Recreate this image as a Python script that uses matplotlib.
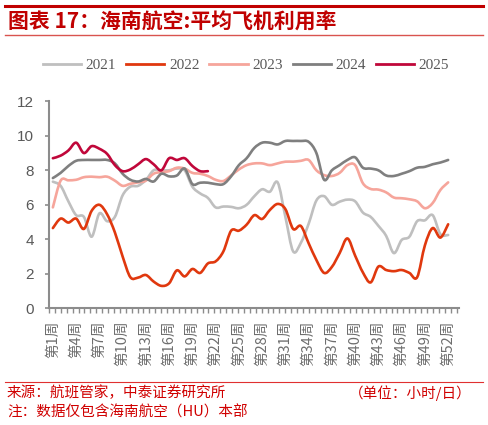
import numpy as np
import matplotlib; matplotlib.use("Agg")
import matplotlib.pyplot as plt
from matplotlib.path import Path
from matplotlib.patches import PathPatch
from matplotlib.lines import Line2D
from matplotlib.transforms import ScaledTranslation

plt.rcParams['font.family'] = ['Noto Sans CJK SC', 'DejaVu Sans']

weeks = np.arange(1, 53)
labels = [f"第{w}周" for w in range(1, 53, 3)]

y2021 = [7.34, 7.1, 6.2, 5.4, 5.3, 4.15, 5.5, 5.05, 5.3, 6.55, 7.05, 7.1, 7.44, 8.0, 8.0, 8.0, 8.1, 8.0,
         7.05, 6.66, 6.4, 5.85, 5.9, 5.88, 5.8, 6.0, 6.5, 6.9, 6.76, 7.3, 5.3, 3.3, 3.8, 4.9, 6.25, 6.5,
         6.0, 6.18, 6.3, 6.2, 5.55, 5.3, 4.78, 4.2, 3.2, 3.96, 4.15, 5.05, 5.1, 5.4, 4.3, 4.25]
y2022 = [4.65, 5.2, 4.97, 5.2, 4.6, 5.65, 6.0, 5.45, 4.4, 3.0, 1.8, 1.78, 1.93, 1.55, 1.3, 1.45, 2.2, 1.85,
         2.28, 2.05, 2.6, 2.72, 3.3, 4.5, 4.5, 4.85, 5.4, 5.18, 5.7, 6.05, 5.75, 4.6, 4.77, 3.77, 2.8, 2.05,
         2.4, 3.2, 4.05, 3.05, 2.08, 1.5, 2.42, 2.22, 2.15, 2.22, 2.05, 1.8, 3.65, 4.65, 4.1, 4.87]
y2023 = [5.85, 7.4, 7.42, 7.45, 7.6, 7.63, 7.6, 7.63, 7.4, 7.1, 7.22, 7.3, 7.4, 7.8, 7.9, 7.95, 8.15, 8.1,
         7.85, 7.8, 7.67, 7.45, 7.38, 7.7, 8.05, 8.3, 8.4, 8.4, 8.3, 8.4, 8.5, 8.5, 8.55, 8.6, 8.0, 7.72,
         7.67, 7.85, 8.3, 8.3, 7.25, 6.92, 6.88, 6.72, 6.42, 6.38, 6.32, 6.2, 5.8, 6.1, 6.86, 7.3]
y2024 = [7.55, 7.85, 8.25, 8.55, 8.6, 8.6, 8.6, 8.6, 8.4, 7.8, 7.45, 7.35, 7.5, 7.35, 7.8, 7.65, 7.7, 8.1,
         7.2, 7.28, 7.28, 7.2, 7.2, 7.65, 8.3, 8.7, 9.3, 9.6, 9.6, 9.5, 9.7, 9.7, 9.7, 9.65, 9.0, 7.45,
         8.0, 8.3, 8.6, 8.75, 8.15, 8.1, 8.0, 7.7, 7.67, 7.8, 7.95, 8.15, 8.2, 8.35, 8.45, 8.6]
y2025 = [8.7, 8.85, 9.15, 9.6, 9.0, 9.4, 9.25, 8.95, 8.3, 7.95, 8.05, 8.35, 8.65, 8.35, 8.0, 8.7, 8.6, 8.7,
         8.25, 7.95, 7.95]

series = ["2021", "2022", "2023", "2024", "2025"]
values = [y2021, y2022, y2023, y2024, y2025]
colors = ["#BFBFBF", "#E0380E", "#F6A59B", "#7F7F7F", "#C0073A"]


def smooth_path(x, y):
    # catmull-rom style smoothing (like Excel "smoothed line")
    p = np.column_stack([x, y]).astype(float)
    n = len(p)
    verts = [p[0]]
    codes = [Path.MOVETO]
    for i in range(n - 1):
        p0 = p[i - 1] if i > 0 else p[i]
        p3 = p[i + 2] if i + 2 < n else p[i + 1]
        c1 = p[i] + (p[i + 1] - p0) / 6
        c2 = p[i + 1] - (p3 - p[i]) / 6
        verts += [c1, c2, p[i + 1]]
        codes += [Path.CURVE4] * 3
    return Path(verts, codes)


fig = plt.figure(figsize=(4.88, 4.25), dpi=100)
ax = fig.add_axes([49 / 488, 1 - 308.3 / 425, 410 / 488, 207 / 425])

for name, vals, col in zip(series, values, colors):
    pth = smooth_path(weeks[:len(vals)], vals)
    ax.add_patch(PathPatch(pth, fill=False, edgecolor=col, lw=1.9, capstyle='round', joinstyle='round'))

ax.set_xlim(0.5, 53.4)
ax.set_ylim(0, 12)
ax.set_yticks(range(0, 13, 2))
ax.set_xticks(list(range(1, 53, 3)))
ax.set_xticklabels(labels, rotation=90, fontsize=10.5, color="#6E6E6E")
shift = ScaledTranslation(4 / 100, 0, fig.dpi_scale_trans)
for lab in ax.get_xticklabels():
    lab.set_transform(lab.get_transform() + shift)
ax.set_xticks(np.arange(0.5, 53.45, 0.762), minor=True)
ax.tick_params(axis='x', which='major', length=0, pad=9)
ax.tick_params(axis='x', which='minor', length=3.5, width=1, color="#8C8C8C")
ax.tick_params(axis='y', length=3, width=1.2, color="#8C8C8C", pad=8, labelcolor="#595959", labelsize=11)
for lab in ax.get_yticklabels():
    lab.set_family(['Liberation Sans', 'DejaVu Sans'])
for s in ['top', 'right']:
    ax.spines[s].set_visible(False)
for s in ['left', 'bottom']:
    ax.spines[s].set_color("#8C8C8C")
    ax.spines[s].set_linewidth(1.5)

handles = [Line2D([], [], color=c, lw=2) for c in colors]
leg = fig.legend(handles, series, loc='center', bbox_to_anchor=(246 / 488, 1 - 65 / 425), ncol=5,
                 frameon=False, handlelength=2.5, handletextpad=0.3, columnspacing=0.65,
                 prop={'family': ['Liberation Serif', 'DejaVu Serif'], 'size': 11})
for t in leg.get_texts():
    t.set_color("#595959")

# header and footer
red = "#C00000"
fig.add_artist(Line2D([5 / 488, 483 / 488], [1 - 6 / 425] * 2, color=red, lw=2.2))
fig.add_artist(Line2D([5 / 488, 483 / 488], [1 - 35 / 425] * 2, color="#D9534F", lw=1.0))
fig.text(8 / 488, 1 - 22 / 425, "图表 17：海南航空:平均飞机利用率", color=red, fontsize=15,
         fontweight='bold', va='center', ha='left')
fig.add_artist(Line2D([5 / 488, 483 / 488], [1 - 382 / 425] * 2, color="#E03030", lw=0.8))
fig.text(7 / 488, 1 - 393 / 425, "来源：航班管家，中泰证券研究所", color="#D00000", fontsize=10.5,
         va='center', ha='left')
fig.text(472 / 488, 1 - 393 / 425, "（单位：小时/日）", color="#D00000", fontsize=10.5,
         va='center', ha='right')
fig.text(7 / 488, 1 - 412 / 425, "注：数据仅包含海南航空（HU）本部", color="#D00000", fontsize=10.5,
         va='center', ha='left')

fig.savefig("out.png", dpi=100)
